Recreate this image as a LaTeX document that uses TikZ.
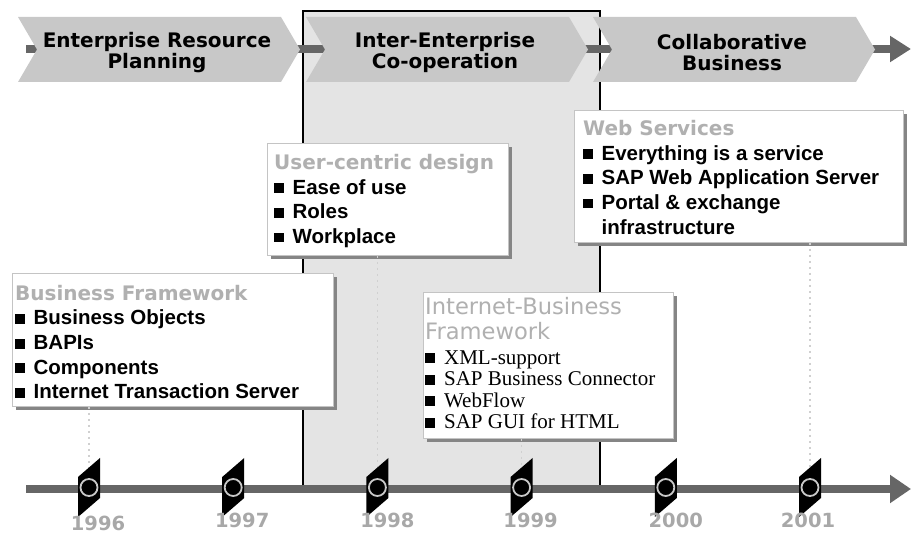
\documentclass[tikz,border=0pt]{standalone}
\usepackage{fontspec}
\setmainfont{Liberation Sans}
\newfontfamily\vfont{DejaVu Sans}
\newfontfamily\serifitem{Liberation Serif}
\usetikzlibrary{arrows.meta,shadows}
\definecolor{phasegray}{HTML}{C8C8C8}
\definecolor{regfill}{HTML}{E4E4E4}
\definecolor{darkbar}{HTML}{666666}
\definecolor{boxline}{HTML}{C4C4C4}
\definecolor{shadowgray}{HTML}{858585}
\definecolor{titlegray}{HTML}{B0B0B0}
\definecolor{yeargray}{HTML}{A8A8A8}
\definecolor{dotgray}{HTML}{D0D0D0}
\newcommand\bul{\rule[0.05em]{0.48em}{0.48em}\hspace{0.42em}}
\newcommand\boxtitle[1]{{\vfont\bfseries\fontsize{20}{24.7}\selectfont\color{titlegray}#1}}

\begin{document}
\begin{tikzpicture}[x=1pt,y=-1pt,
    phase/.style={fill=phasegray},
    phasetxt/.style={font=\vfont\bfseries\fontsize{20}{21.5}\selectfont,align=center,inner sep=0},
    bar/.style={draw=darkbar,line width=8pt},
    infobox/.style={draw=boxline,fill=white,line width=0.8pt,anchor=north west,inner sep=0,
        drop shadow={shadow xshift=4pt,shadow yshift=-4pt,fill=shadowgray,opacity=1}},
    boxtxt/.style={anchor=north west,inner sep=0,align=left,font=\bfseries\fontsize{20.5}{24.7}\selectfont},
    dotline/.style={draw=dotgray,line width=1.5pt,dash pattern=on 2pt off 4pt},
    ring/.style={draw=phasegray,line width=1.8pt,fill=black},
    yrlab/.style={font=\vfont\bfseries\fontsize{19.5}{20}\selectfont,text=yeargray,inner sep=0}]
    \useasboundingbox (0,0) rectangle (911,534);

    % inter-enterprise period
    \fill[regfill] (303,11) rectangle (600,489);
    \draw[line width=1.5pt] (303,489) -- (303,11) -- (600,11) -- (600,489);

    % phases
    \draw[bar,-{Triangle[length=21pt,width=25pt]}] (26,49) -- (911,49);
    \foreach[count=\i] \x/\lab in {18/{Enterprise Resource\\Planning},306/{Inter-Enterprise\\Co-operation},593/{Collaborative\\Business}} {
        \fill[phase] (\x,17) -- ++(263,0) -- ++(19,32.5) -- ++(-19,32.5) -- ++(-263,0) -- ++(19,-32.5) -- cycle;
        \node[phasetxt] (ph\i) at (\x+139,52.5) {\lab};
    }

    % boxes
    \node[infobox,minimum width=321pt,minimum height=133pt] (bf) at (12,273) {};
    \node[boxtxt] (bftxt) at (15,284.8) {\boxtitle{Business Framework}\\ \bul Business Objects\\ \bul BAPIs\\ \bul Components\\ \bul Internet Transaction Server};

    \node[infobox,minimum width=241pt,minimum height=112pt] (uc) at (267,143) {};
    \node[boxtxt] (uctxt) at (274,154) {\boxtitle{User-centric design}\\ \bul Ease of use\\ \bul Roles\\ \bul Workplace};

    \node[infobox,minimum width=250pt,minimum height=146pt] (ib) at (423,292) {};
    \node[boxtxt,font=\serifitem\fontsize{21}{21.5}\selectfont] (ibtxt) at (425,297) {%
        {\vfont\fontsize{22.6}{21.5}\selectfont\color{titlegray}Internet-Business}\\[3.5pt]
        {\vfont\fontsize{22.6}{21.5}\selectfont\color{titlegray}Framework}\\[3.5pt]
        \bul XML-support\\ \bul SAP Business Connector\\ \bul WebFlow\\ \bul SAP GUI for HTML};

    \node[infobox,minimum width=329pt,minimum height=132pt] (ws) at (574,110) {};
    \node[boxtxt] (wstxt) at (583,120) {\boxtitle{Web Services}\\ \bul Everything is a service\\ \bul SAP Web Application Server\\ \bul Portal \& exchange\\ \phantom{\bul}infrastructure};

    % timeline
    \foreach \i in {1,...,6}
        \coordinate (m\i) at (89+144.2*\i-144.2,487.5);
    \draw[dotline] (bf.south -| m1) -- (m1);
    \draw[dotline] (uc.south -| m3) -- (m3);
    \draw[dotline] (ib.south -| m4) -- (m4);
    \draw[dotline] (ws.south -| m6) -- (m6);
    \draw[bar,-{Triangle[length=21pt,width=27pt]}] (26,489) -- (911,489);
    \foreach[count=\i] \yr/\dx/\dy in {1996/9/3,1997/9/0,1998/10/0,1999/9/0,2000/10/0,2001/-2/0} {
        \fill (m\i) ++(-11,-10.5) -- ++(22,-19) -- ++(0,40) -- ++(-22,19) -- cycle;
        \draw[ring] (m\i) circle (8.5);
        \node[yrlab] (yr\i) at ([xshift=\dx pt]m\i |- 0,520.5+\dy) {\yr};
    }
\end{tikzpicture}
\end{document}
